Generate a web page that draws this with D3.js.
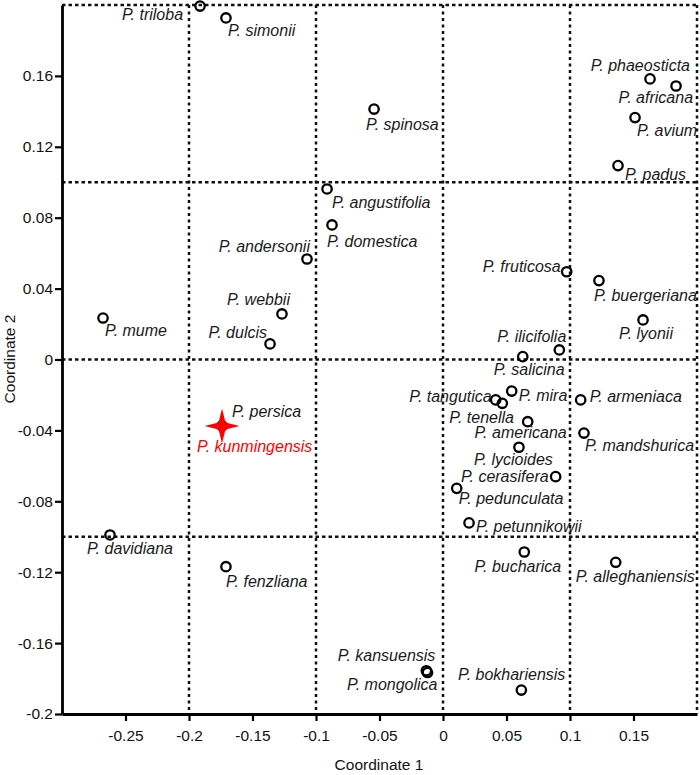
<!DOCTYPE html>
<html>
<head>
<meta charset="utf-8">
<script src="https://cdn.jsdelivr.net/npm/d3@7"></script>
<style>
  body { margin: 0; background: #fff; }
  svg { display: block; font-family: "Liberation Sans", Arial, sans-serif; }
</style>
</head>
<body>
<svg id="chart" width="700" height="775"></svg>
<script>
// species and their PCoA coordinates
const species = [
  "P. triloba", "P. simonii", "P. spinosa", "P. phaeosticta", "P. africana",
  "P. avium", "P. padus", "P. angustifolia", "P. domestica", "P. andersonii",
  "P. webbii", "P. dulcis", "P. mume", "P. persica", "P. fruticosa",
  "P. buergeriana", "P. lyonii", "P. ilicifolia", "P. salicina", "P. mira",
  "P. tangutica", "P. tenella", "P. armeniaca", "P. americana", "P. mandshurica",
  "P. lycioides", "P. cerasifera", "P. pedunculata", "P. petunnikowii", "P. bucharica",
  "P. alleghaniensis", "P. kansuensis", "P. mongolica", "P. bokhariensis", "P. davidiana",
  "P. fenzliana"
]
const coord1 = [
  -0.1913, -0.1709, -0.0543, 0.1630, 0.1835,
  0.1512, 0.1378, -0.0913, -0.0874, -0.1071,
  -0.1268, -0.1362, -0.2677, -0.1740, 0.0974,
  0.1228, 0.1575, 0.0916, 0.0628, 0.0541,
  0.0415, 0.0467, 0.1084, 0.0667, 0.1110,
  0.0598, 0.0887, 0.0108, 0.0205, 0.0640,
  0.1360, -0.0131, -0.0122, 0.0617, -0.2622,
  -0.1709
]
const coord2 = [
  0.1994, 0.1927, 0.1413, 0.1583, 0.1543,
  0.1365, 0.1094, 0.0962, 0.0759, 0.0567,
  0.0257, 0.0088, 0.0234, -0.0375, 0.0495,
  0.0445, 0.0223, 0.0054, 0.0016, -0.0178,
  -0.0228, -0.0247, -0.0228, -0.0351, -0.0415,
  -0.0495, -0.0661, -0.0727, -0.0922, -0.1086,
  -0.1144, -0.1756, -0.1766, -0.1865, -0.0990,
  -0.1169
]
// the new species, shown as a red star
const highlight = {name: "P. kunmingensis", c1: -0.1740, c2: -0.0375}

const xTicks = [-0.25, -0.2, -0.15, -0.1, -0.05, 0, 0.05, 0.1, 0.15]
const yTicks = [-0.2, -0.16, -0.12, -0.08, -0.04, 0, 0.04, 0.08, 0.12, 0.16]
const xGrid = [-0.2, -0.1, 0, 0.1, 0.2]
const yGrid = [-0.1, 0, 0.1, 0.2]

// label placement (dx, dy from the point, text-anchor)
const labelPos = {
  "P. triloba": [-17, 14, "end"],
  "P. simonii": [2, 18, "start"],
  "P. spinosa": [-8, 21, "start"],
  "P. phaeosticta": [40, -8, "end"],
  "P. africana": [17, 17, "end"],
  "P. avium": [2, 18, "start"],
  "P. padus": [7, 14, "start"],
  "P. angustifolia": [5, 19, "start"],
  "P. domestica": [-5, 22, "start"],
  "P. andersonii": [3, -7, "end"],
  "P. webbii": [8, -9, "end"],
  "P. dulcis": [-3, -6, "end"],
  "P. mume": [2, 18, "start"],
  "P. persica": [10, -9, "start"],
  "P. fruticosa": [-6, 0, "end"],
  "P. buergeriana": [-5, 20, "start"],
  "P. lyonii": [-24, 19, "start"],
  "P. ilicifolia": [7, -8, "end"],
  "P. salicina": [-29, 18, "start"],
  "P. mira": [7, 10, "start"],
  "P. tangutica": [-4, 2, "end"],
  "P. tenella": [-53, 20, "start"],
  "P. armeniaca": [9, 2, "start"],
  "P. americana": [39, 16, "end"],
  "P. mandshurica": [1, 18, "start"],
  "P. lycioides": [-45, 18, "start"],
  "P. cerasifera": [-7, 5, "end"],
  "P. pedunculata": [2, 16, "start"],
  "P. petunnikowii": [7, 9, "start"],
  "P. bucharica": [37, 20, "end"],
  "P. alleghaniensis": [79, 20, "end"],
  "P. kansuensis": [9, -10, "end"],
  "P. mongolica": [10, 17, "end"],
  "P. bokhariensis": [44, -10, "end"],
  "P. davidiana": [-23, 19, "start"],
  "P. fenzliana": [0, 20, "start"],
  "P. kunmingensis": [-25, 26, "start"]
}

const svg = d3.select("#chart")
const mLeft = 62, mRight = 697, mTop = 5, mBottom = 714

const x = d3.scaleLinear().domain([-0.3, 0.2]).range([mLeft, mRight])
const y = d3.scaleLinear().domain([-0.2, 0.2]).range([mBottom, mTop])

const fmt = d => String(+d.toFixed(2))

// dotted grid
svg.append("g").selectAll("line").data(xGrid).join("line")
  .attr("x1", d => x(d)).attr("x2", d => x(d))
  .attr("y1", y(0.2)).attr("y2", y(-0.2))
  .attr("stroke", "#111").attr("stroke-width", 2.5).attr("stroke-dasharray", "3,3.5")
svg.append("g").selectAll("line").data(yGrid).join("line")
  .attr("x1", x(-0.3)).attr("x2", x(0.2))
  .attr("y1", d => y(d)).attr("y2", d => y(d))
  .attr("stroke", "#111").attr("stroke-width", 2.5).attr("stroke-dasharray", "3.5,3")

// axes
const xAxis = svg.append("g").attr("transform", `translate(0,${mBottom})`)
  .call(d3.axisBottom(x).tickValues(xTicks).tickFormat(fmt).tickSize(7).tickSizeOuter(0).tickPadding(9))
const yAxis = svg.append("g").attr("transform", `translate(${mLeft},0)`)
  .call(d3.axisLeft(y).tickValues(yTicks).tickFormat(fmt).tickSize(7).tickSizeOuter(0).tickPadding(2))

for (const ax of [xAxis, yAxis]) {
  ax.attr("font-family", "Liberation Sans, Arial, sans-serif").attr("font-size", 15.5)
  ax.select(".domain").attr("stroke", "#000").attr("stroke-width", 2.8)
  ax.selectAll(".tick line").attr("stroke", "#000").attr("stroke-width", 2.2)
  ax.selectAll(".tick text").attr("fill", "#111")
}

svg.append("text").attr("x", 379).attr("y", 770).attr("text-anchor", "middle")
  .attr("font-size", 15.5).attr("fill", "#111").text("Coordinate 1")
svg.append("text").attr("transform", "translate(15,359) rotate(-90)").attr("text-anchor", "middle")
  .attr("font-size", 15.5).attr("fill", "#111").text("Coordinate 2")

const pts = species.map((s, i) => ({name: s, c1: coord1[i], c2: coord2[i]}))

// points
svg.append("g").selectAll("circle").data(pts).join("circle")
  .attr("cx", d => x(d.c1)).attr("cy", d => y(d.c2)).attr("r", 4.7)
  .attr("fill", "none").attr("stroke", "#000").attr("stroke-width", 2.3)

// red four-pointed star
const starPts = d3.range(8).map(i => {
  const a = i * Math.PI / 4
  const r = i % 2 === 0 ? 17.5 : 4.9
  return [Math.cos(a) * r, Math.sin(a) * r]
})
svg.append("path")
  .attr("d", d3.line().curve(d3.curveLinearClosed)(starPts))
  .attr("transform", `translate(${x(highlight.c1)},${y(highlight.c2)})`)
  .attr("fill", "#ff0000")

// labels
svg.append("g").selectAll("text").data(pts.concat([highlight])).join("text")
  .attr("x", d => x(d.c1) + labelPos[d.name][0])
  .attr("y", d => y(d.c2) + labelPos[d.name][1])
  .attr("text-anchor", d => labelPos[d.name][2])
  .attr("font-size", 16).attr("font-style", "italic")
  .attr("fill", d => d.name === highlight.name ? "#ff0000" : "#1a1a1a")
  .text(d => d.name)
</script>
</body>
</html>
